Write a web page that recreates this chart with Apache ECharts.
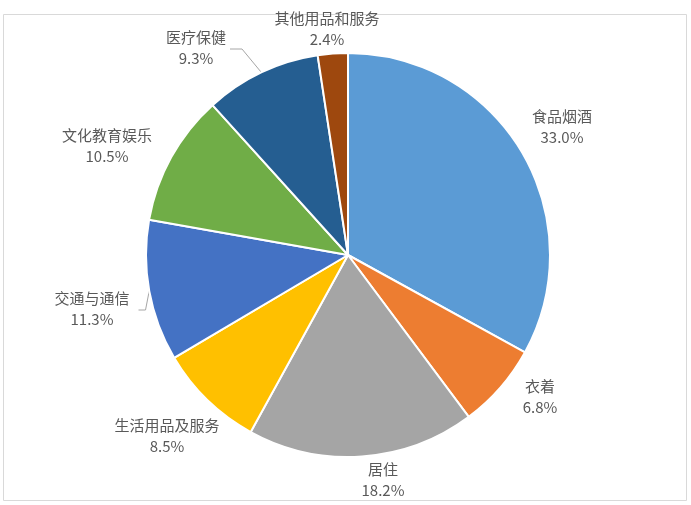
<!DOCTYPE html>
<html><head><meta charset="utf-8">
<script src="https://cdn.jsdelivr.net/npm/echarts@6/dist/echarts.min.js"></script>
<style>html,body{margin:0;padding:0;background:#fff}#c{width:691px;height:505px}</style>
</head><body><div id="c"></div>
<script>
const categories = ['食品烟酒','衣着','居住','生活用品及服务','交通与通信','文化教育娱乐','医疗保健','其他用品和服务'];
const values = [33.0, 6.8, 18.2, 8.5, 11.3, 10.5, 9.3, 2.4];
const colors = ['#5B9BD5','#ED7D31','#A5A5A5','#FFC000','#4472C4','#70AD47','#255E91','#9E480E'];
const showLine = [false,false,false,false,true,false,true,false];
// label block centres (placement styling)
const labelPos = [[562,127],[540,397],[383,480],[167,436],[92,309],[196,48],[327,29]];
labelPos.splice(5,0,[107,146]);

const chart = echarts.init(document.getElementById('c'), null, {renderer:'canvas'});
chart.setOption({
  animation:false,
  backgroundColor:'#fff',
  graphic:[{type:'rect',shape:{x:3.5,y:14.5,width:683,height:486},style:{fill:'none',stroke:'#d9d9d9',lineWidth:1},z:-1}],
  series:[{
    type:'pie',
    center:[348,255],
    radius:202,
    startAngle:90,
    clockwise:true,
    data: categories.map((n,i)=>({name:n,value:values[i],itemStyle:{color:colors[i]},
      labelLine:{show:showLine[i]}})),
    itemStyle:{borderColor:'#fff',borderWidth:2},
    label:{show:true,position:'outside',formatter:p=>p.name+'\n'+p.value.toFixed(1)+'%',
      fontFamily:'"Noto Sans CJK SC", "Noto Sans", sans-serif',fontSize:15,color:'#595959',lineHeight:21,align:'center'},
    labelLine:{lineStyle:{color:'#a6a6a6',width:1},length:10,length2:8},
    labelLayout: function(p){
      const i = p.dataIndex;
      const pos = labelPos[i];
      const res = {x:pos[0], y:pos[1], align:'center', verticalAlign:'middle'};
      if (showLine[i] && p.labelLinePoints) {
        const w = p.labelRect.width;
        const ex = pos[0] + w/2 + (i===4 ? 9 : 4);
        const ey = pos[1] + 1;
        res.labelLinePoints = [p.labelLinePoints[0], [pos[0] + w/2 + 16, ey], [ex, ey]];
      }
      return res;
    }
  }]
});
</script></body></html>
